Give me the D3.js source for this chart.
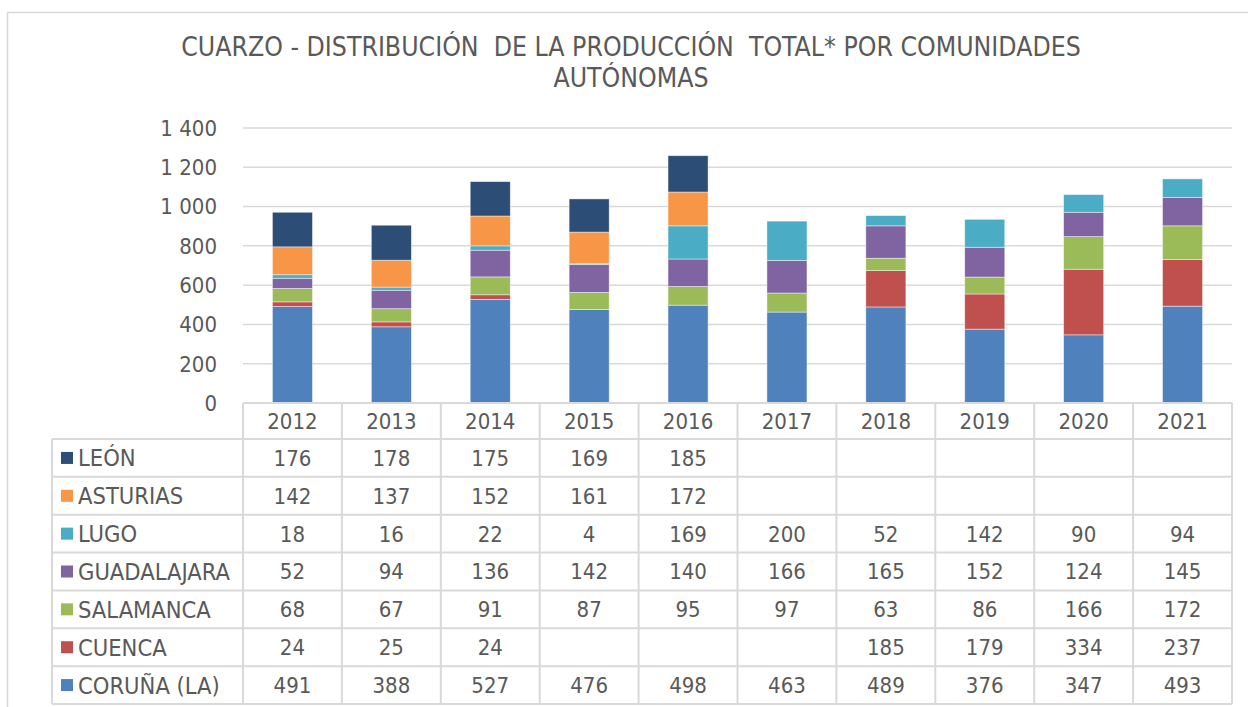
<!DOCTYPE html>
<html>
<head>
<meta charset="utf-8">
<script src="https://cdn.jsdelivr.net/npm/d3@7"></script>
<style>
html,body{margin:0;padding:0;background:#fff;}
svg{display:block;}
text{font-family:"DejaVu Sans Condensed","DejaVu Sans",sans-serif;fill:#595959;white-space:pre;}
</style>
</head>
<body>
<svg id="chart" width="1248" height="707"></svg>
<script>
const titleLines = ["CUARZO - DISTRIBUCIÓN  DE LA PRODUCCIÓN  TOTAL* POR COMUNIDADES", "AUTÓNOMAS"];
const years = ["2012","2013","2014","2015","2016","2017","2018","2019","2020","2021"];
// series, bottom to top of stack
const seriesNames = ["CORUÑA (LA)","CUENCA","SALAMANCA","GUADALAJARA","LUGO","ASTURIAS","LEÓN"];
const coruna      = [491,388,527,476,498,463,489,376,347,493];
const cuenca      = [24,25,24,null,null,null,185,179,334,237];
const salamanca   = [68,67,91,87,95,97,63,86,166,172];
const guadalajara = [52,94,136,142,140,166,165,152,124,145];
const lugo        = [18,16,22,4,169,200,52,142,90,94];
const asturias    = [142,137,152,161,172,null,null,null,null,null];
const leon        = [176,178,175,169,185,null,null,null,null,null];
const seriesColors = ["#4F81BD","#C0504D","#9BBB59","#8064A2","#4BACC6","#F79646","#2C4D75"];
const yTicks = [0,200,400,600,800,1000,1200,1400];
const yTickLabels = ["0","200","400","600","800","1 000","1 200","1 400"];

const seriesValues = [coruna,cuenca,salamanca,guadalajara,lugo,asturias,leon];

const svg = d3.select("#chart");
const grid = "#d9d9d9";

// outer chart frame
svg.append("rect").attr("x",7.5).attr("y",12.5).attr("width",1300).attr("height",800)
  .attr("fill","#fff").attr("stroke",grid).attr("stroke-width",1.5);

// title
svg.selectAll("text.title").data(titleLines).join("text")
  .attr("class","title")
  .attr("x",631).attr("y",(d,i)=>56+i*31)
  .attr("text-anchor","middle")
  .style("font-size","26.4px")
  .text(d=>d);

const plotLeft = 243, plotRight = 1232, plotTop = 128, plotBottom = 403;
const x = d3.scaleBand().domain(years).range([plotLeft,plotRight]).padding(0);
const y = d3.scaleLinear().domain([0,1400]).range([plotBottom,plotTop]);

// gridlines
svg.append("g").selectAll("line").data(yTicks).join("line")
  .attr("x1",plotLeft).attr("x2",plotRight)
  .attr("y1",d=>y(d)).attr("y2",d=>y(d))
  .attr("stroke",grid).attr("stroke-width",1.5);

// y axis labels
svg.append("g").selectAll("text").data(yTicks).join("text")
  .attr("x",217).attr("y",d=>y(d)).attr("dy","0.36em")
  .attr("text-anchor","end")
  .style("font-size","22px")
  .text((d,i)=>yTickLabels[i]);

// stacked bars
const table = years.map((yr,i)=>{
  const o = {year:yr};
  seriesNames.forEach((s,k)=>{ o[s] = seriesValues[k][i] || 0; });
  return o;
});
const stacked = d3.stack().keys(seriesNames)(table);
const barW = x.bandwidth()*0.405;
svg.append("g").selectAll("g").data(stacked).join("g")
  .attr("fill",(d,i)=>seriesColors[i])
  .selectAll("rect").data(d=>d.filter(p=>p[1]-p[0]>0)).join("rect")
  .attr("x",d=>x(d.data.year)+x.bandwidth()/2-barW/2)
  .attr("width",barW)
  .attr("y",d=>y(d[1]))
  .attr("height",d=>y(d[0])-y(d[1]))
  .attr("stroke","#ffffff").attr("stroke-opacity",0.55).attr("stroke-width",0.8);

// data table
const rowsTopDown = seriesNames.slice().reverse();
const tableTop = 439, tableBottom = 704, tableLeft = 52;
const r = d3.scaleBand().domain(rowsTopDown).range([tableTop,tableBottom]);
const tg = svg.append("g");
tg.append("line").attr("x1",plotLeft).attr("x2",plotRight).attr("y1",plotBottom).attr("y2",plotBottom)
  .attr("stroke",grid).attr("stroke-width",2);
const hLines = rowsTopDown.map(s=>r(s)).concat([tableBottom]);
tg.selectAll("line.h").data(hLines).join("line").attr("class","h")
  .attr("x1",tableLeft).attr("x2",plotRight).attr("y1",d=>d).attr("y2",d=>d)
  .attr("stroke",grid).attr("stroke-width",2);
const vX = years.map(yr=>x(yr)).concat([plotRight]);
tg.selectAll("line.v").data(vX).join("line").attr("class","v")
  .attr("x1",d=>d).attr("x2",d=>d).attr("y1",plotBottom).attr("y2",tableBottom)
  .attr("stroke",grid).attr("stroke-width",2);
tg.append("line").attr("x1",tableLeft).attr("x2",tableLeft).attr("y1",tableTop).attr("y2",tableBottom)
  .attr("stroke",grid).attr("stroke-width",2);

// year headers
tg.selectAll("text.yr").data(years).join("text").attr("class","yr")
  .attr("x",d=>x(d)+x.bandwidth()/2).attr("y",(plotBottom+tableTop)/2).attr("dy","0.36em")
  .attr("text-anchor","middle").style("font-size","22px").text(d=>d);

// legend labels
const lg = tg.selectAll("g.lg").data(rowsTopDown).join("g").attr("class","lg")
  .attr("transform",s=>`translate(0,${r(s)+r.bandwidth()/2})`);
lg.append("rect").attr("x",61).attr("y",-6).attr("width",12).attr("height",12)
  .attr("fill",s=>seriesColors[seriesNames.indexOf(s)]);
lg.append("text").attr("x",78).attr("dy","0.36em").style("font-size","23.5px").text(s=>s);

// values
rowsTopDown.forEach(s=>{
  const vals = seriesValues[seriesNames.indexOf(s)];
  tg.append("g").selectAll("text").data(years.map((yr,i)=>({yr,v:vals[i]})).filter(d=>d.v!=null)).join("text")
    .attr("x",d=>x(d.yr)+x.bandwidth()/2)
    .attr("y",r(s)+r.bandwidth()/2).attr("dy","0.36em")
    .attr("text-anchor","middle").style("font-size","22px")
    .text(d=>d.v);
});
</script>
</body>
</html>
